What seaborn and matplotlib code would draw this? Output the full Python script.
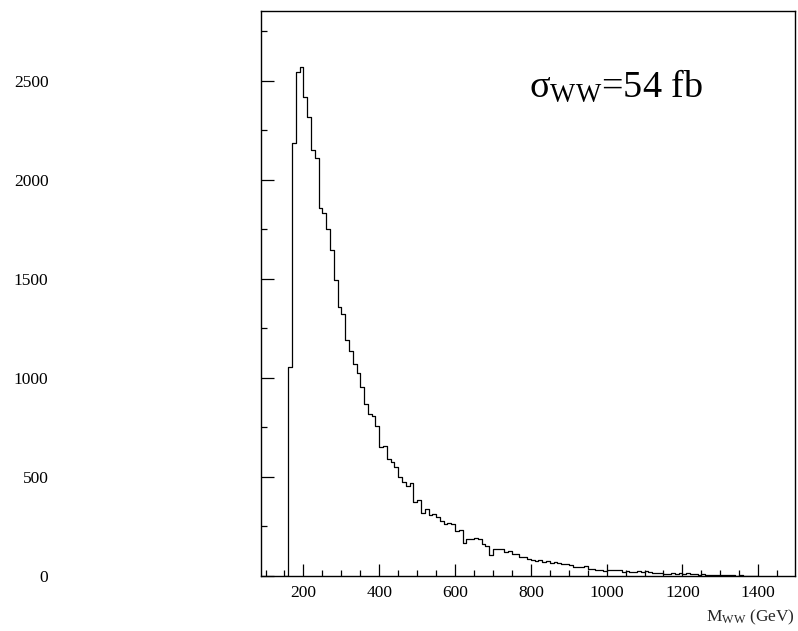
import numpy as np
import pandas as pd
import matplotlib
matplotlib.use("Agg")
import matplotlib.pyplot as plt
from matplotlib.ticker import MultipleLocator
import seaborn as sns

# ---- data ----
bin_start = 150      # GeV, left edge of the first bin
bin_width = 10       # GeV
counts = [
    0, 1057, 2185, 2544, 2569, 2421, 2317, 2152, 2113, 1857,
    1835, 1751, 1645, 1495, 1356, 1321, 1191, 1136, 1069, 1024,
    955, 870, 817, 808, 759, 652, 657, 589, 574, 552,
    498, 476, 456, 471, 375, 382, 320, 337, 308, 311,
    296, 279, 261, 269, 263, 229, 232, 165, 185, 189,
    190, 188, 160, 154, 108, 135, 137, 134, 120, 125,
    113, 109, 98, 94, 84, 81, 75, 81, 69, 78,
    64, 69, 64, 61, 59, 56, 45, 45, 45, 52,
    35, 34, 32, 30, 27, 30, 29, 30, 32, 22,
    25, 19, 22, 25, 20, 27, 20, 15, 13, 15,
    12, 12, 15, 10, 17, 10, 13, 8, 10, 7,
    8, 5, 7, 5, 7, 3, 5, 3, 3, 2,
    3, 2, 2, 1, 0,
]
x_ticks = [200, 400, 600, 800, 1000, 1200, 1400]
y_ticks = [0, 500, 1000, 1500, 2000, 2500]
x_range = (88, 1497)
y_range = (0, 2853)
annotation = "σ$_{\\mathrm{WW}}$=54 fb"
x_label = "M$_{\\mathrm{WW}}$ (GeV)"

n = len(counts)
centers = bin_start + bin_width * (np.arange(n) + 0.5)
df = pd.DataFrame({"mww": centers, "w": np.asarray(counts, dtype=float)})

# ---- style ----
sns.set_style("ticks")
plt.rcParams["font.family"] = ["Liberation Serif", "DejaVu Serif"]
plt.rcParams["mathtext.fontset"] = "custom"
plt.rcParams["mathtext.rm"] = "Liberation Serif"
plt.rcParams["mathtext.it"] = "Liberation Serif:italic"

fig = plt.figure(figsize=(7.98, 6.31), dpi=100)
ax = fig.add_axes([261 / 798, 1 - 576 / 631, (795 - 261) / 798, (576 - 11) / 631])

sns.histplot(data=df, x="mww", weights="w", binwidth=bin_width,
             binrange=(bin_start, bin_start + bin_width * n), element="step",
             fill=False, color="black", linewidth=0.9, ax=ax)

ax.set_xlim(*x_range)
ax.set_ylim(*y_range)
ax.set_xticks(x_ticks)
ax.set_yticks(y_ticks)
ax.xaxis.set_minor_locator(MultipleLocator(50))
ax.yaxis.set_minor_locator(MultipleLocator(250))

ax.tick_params(axis="both", which="major", direction="in", length=9, width=0.9,
               labelsize=12.5, color="black", labelcolor="black")
ax.tick_params(axis="both", which="minor", direction="in", length=4.3, width=0.9,
               color="black")
ax.tick_params(axis="y", which="major", pad=153)
ax.tick_params(axis="x", which="major", pad=6.5)

for s in ax.spines.values():
    s.set_visible(True)
    s.set_color("black")
    s.set_linewidth(1.0)

ax.set_ylabel("")
ax.set_xlabel(x_label, fontsize=12.5, ha="right", va="baseline")
ax.xaxis.set_label_coords(1.0, (576 - 621.7) / 565)

fig.text(529 / 798, 1 - 96.7 / 631, annotation, fontsize=27.5,
         ha="left", va="baseline", color="black")

fig.savefig("out.png", dpi=100)
